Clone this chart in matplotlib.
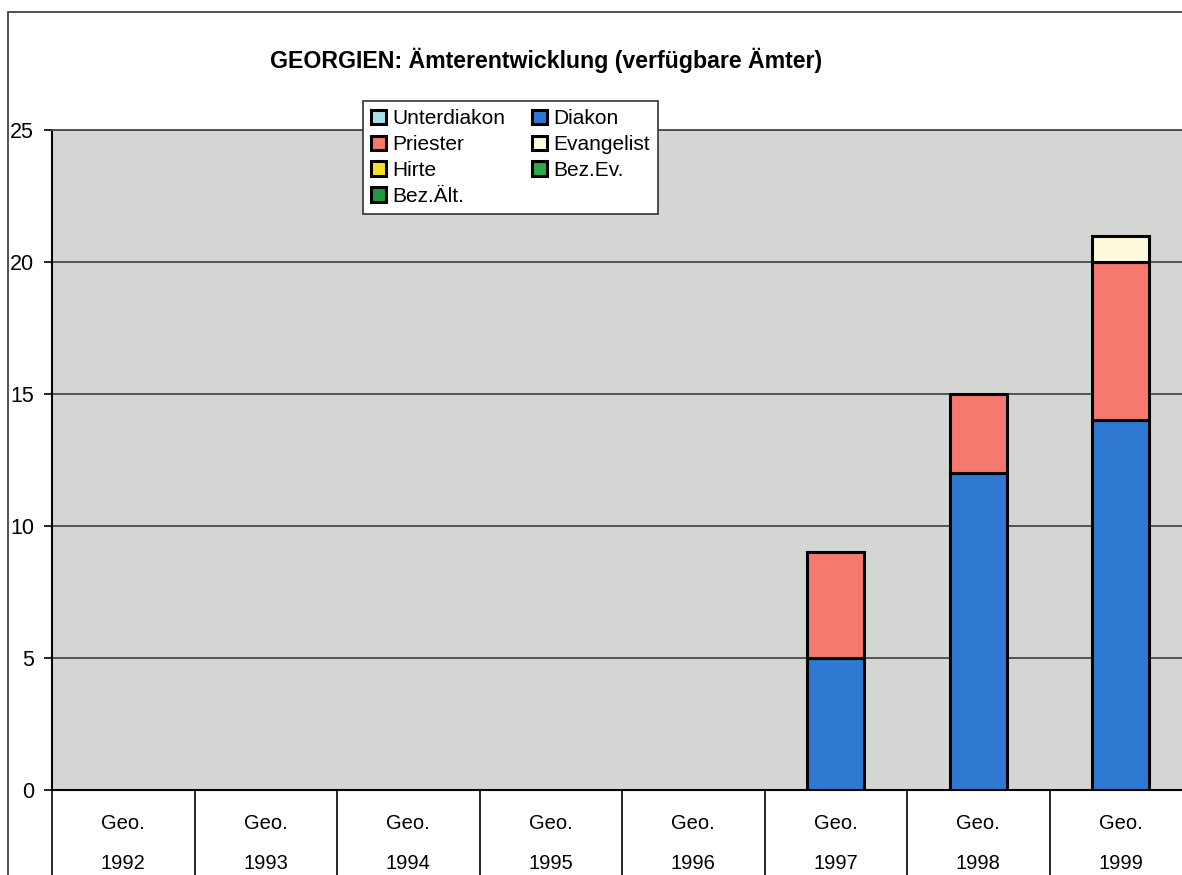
import numpy as np
import matplotlib.pyplot as plt
from matplotlib.patches import Rectangle, Patch

plt.rcParams['font.family'] = ['Liberation Sans', 'DejaVu Sans']

years = ['1992', '1993', '1994', '1995', '1996', '1997', '1998', '1999']
unterdiakon = [0, 0, 0, 0, 0, 0, 0, 0]
diakon = [0, 0, 0, 0, 0, 5, 12, 14]
priester = [0, 0, 0, 0, 0, 4, 3, 6]
evangelist = [0, 0, 0, 0, 0, 0, 0, 1]
hirte = [0, 0, 0, 0, 0, 0, 0, 0]
bez_ev = [0, 0, 0, 0, 0, 0, 0, 0]
bez_alt = [0, 0, 0, 0, 0, 0, 0, 0]

series = [
    ('Unterdiakon', unterdiakon, '#a9dfe6'),
    ('Diakon', diakon, '#2f78d2'),
    ('Priester', priester, '#f5796e'),
    ('Evangelist', evangelist, '#fdfbdc'),
    ('Hirte', hirte, '#f3e02c'),
    ('Bez.Ev.', bez_ev, '#2ea84c'),
    ('Bez.Ält.', bez_alt, '#1f9a40'),
]

W, H = 1182, 875
fig = plt.figure(figsize=(W / 100, H / 100), dpi=100)

# outer chart frame (cut off on right / bottom like the scan)
fig.add_artist(Rectangle((8 / W, -0.1), 1.2, 1.1 - 12 / H, transform=fig.transFigure,
                         fill=False, edgecolor='#444444', linewidth=1.3))

ax = fig.add_axes([52 / W, 85 / H, 1140 / W, 660 / H])
ax.set_facecolor('#d4d6d3')

x = np.arange(len(years))
bottom = np.zeros(len(years))
for name, vals, col in series:
    vals = np.array(vals, dtype=float)
    m = vals > 0
    ax.bar(x[m], vals[m], 0.4, bottom=bottom[m], color=col, edgecolor='black',
           linewidth=2.2, zorder=3)
    bottom += vals

ax.set_xlim(-0.5, len(years) - 0.5)
ax.set_ylim(0, 25)
ax.set_yticks(range(0, 26, 5))
ax.yaxis.grid(True, color='#4a4a4a', linewidth=1.3)
ax.set_axisbelow(True)
ax.tick_params(axis='y', labelsize=15.5, length=6, width=1.2, pad=7)

# category boundaries as long ticks below the axis, labels at centres
ax.set_xticks(np.arange(-0.5, len(years), 1))
ax.set_xticklabels([])
ax.tick_params(axis='x', which='major', length=70, width=1.2, color='black')
ax.set_xticks(x, minor=True)
ax.set_xticklabels(['Geo.\n' + y for y in years], minor=True, fontsize=14.5,
                   linespacing=2.45)
ax.tick_params(axis='x', which='minor', length=0, pad=17)

for s in ['left', 'bottom']:
    ax.spines[s].set_linewidth(1.5)
ax.spines['top'].set_color('#4a4a4a')
ax.spines['top'].set_linewidth(1.3)
ax.spines['right'].set_visible(False)

fig.text(0.462, 0.931, 'GEORGIEN: Ämterentwicklung (verfügbare Ämter)',
         ha='center', va='center', fontsize=16.7, fontweight='bold')

handles = [Patch(facecolor=c, edgecolor='black', linewidth=2.2) for _, _, c in series]
labels = [n for n, _, _ in series]
order = [0, 2, 4, 6, 1, 3, 5]
leg = fig.legend([handles[i] for i in order], [labels[i] for i in order],
                 loc='upper left', bbox_to_anchor=(363 / W, 1 - 101 / H), ncol=2,
                 fontsize=15, frameon=True, fancybox=False, framealpha=1,
                 edgecolor='#333333', handlelength=0.7, handleheight=0.7,
                 handletextpad=0.3, columnspacing=1.3, labelspacing=0.33,
                 borderpad=0.4, borderaxespad=0)
leg.get_frame().set_linewidth(1.2)

fig.savefig('out.png', dpi=100)
